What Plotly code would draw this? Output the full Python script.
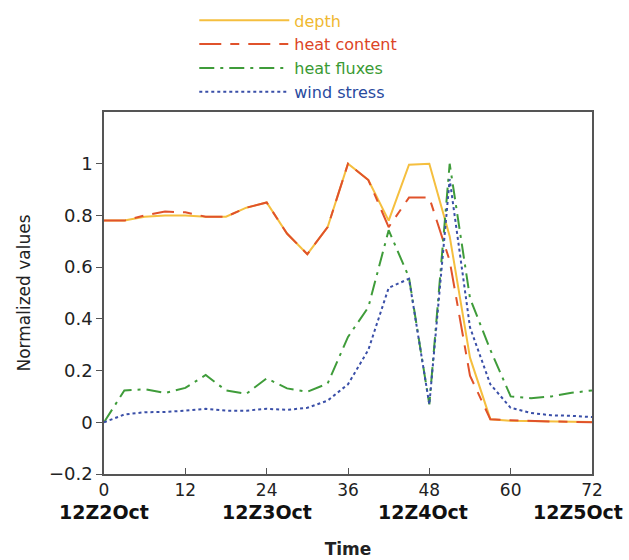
import plotly.graph_objects as go

hours = [0, 3, 6, 9, 12, 15, 18, 21, 24, 27, 30, 33, 36, 39, 42, 45, 48, 51, 54, 57, 60, 63, 66, 69, 72]
depth = [0.78, 0.78, 0.795, 0.80, 0.80, 0.795, 0.795, 0.83, 0.85, 0.73, 0.65, 0.755, 1.0, 0.937, 0.78,
         0.996, 1.0, 0.72, 0.25, 0.012, 0.006, 0.004, 0.003, 0.002, 0.001]
heat_content = [0.78, 0.78, 0.80, 0.815, 0.812, 0.795, 0.795, 0.83, 0.85, 0.73, 0.65, 0.755, 1.0, 0.937, 0.755,
                0.869, 0.869, 0.625, 0.18, 0.012, 0.008, 0.005, 0.003, 0.002, 0.0]
heat_fluxes = [0.0, 0.123, 0.128, 0.113, 0.133, 0.183, 0.123, 0.11, 0.17, 0.131, 0.118, 0.15, 0.33, 0.445, 0.743,
               0.56, 0.069, 1.0, 0.48, 0.28, 0.10, 0.093, 0.10, 0.114, 0.123]
wind_stress = [0.0, 0.03, 0.039, 0.04, 0.045, 0.052, 0.045, 0.045, 0.052, 0.048, 0.056, 0.084, 0.147, 0.28, 0.52,
               0.555, 0.069, 0.94, 0.367, 0.147, 0.056, 0.036, 0.027, 0.025, 0.02]

tick_vals = [0, 12, 24, 36, 48, 60, 72]
tick_text = ["0", "12", "24", "36", "48", "60", "72"]
date_labels = ["12Z2Oct", "12Z3Oct", "12Z4Oct", "12Z5Oct"]
date_hours = [0, 24, 47, 70]

series = [
    ("depth", depth, "#f5bf3f", "solid", "#f0b830"),
    ("heat content", heat_content, "#e0522b", "22px,9px,9px,9px", "#dc4426"),
    ("heat fluxes", heat_fluxes, "#3f9c3a", "longdashdot", "#3a9a34"),
    ("wind stress", wind_stress, "#3a4fa8", "dot", "#284a9e"),
]

fig = go.Figure()
for name, vals, color, dash, tcolor in series:
    fig.add_trace(go.Scatter(
        x=hours, y=vals, mode="lines",
        name=f"<span style='color:{tcolor}'>{name}</span>",
        line=dict(color=color, width=2, dash=dash),
    ))

font_family = "DejaVu Sans, Liberation Sans, sans-serif"

for lab, h in zip(date_labels, date_hours):
    fig.add_annotation(
        x=h, y=-0.105, xref="x", yref="paper", text=f"<b>{lab}</b>",
        showarrow=False, xanchor="center", yanchor="middle",
        font=dict(family=font_family, size=19, color="#111"),
    )

fig.update_layout(
    width=629, height=560,
    margin=dict(l=104, r=37, t=112, b=86, autoexpand=False),
    paper_bgcolor="white", plot_bgcolor="white",
    font=dict(family=font_family, size=17, color="#222"),
    showlegend=True,
    legend=dict(
        x=0.185, y=1.30, xanchor="left", yanchor="top",
        font=dict(size=16, family=font_family),
        itemwidth=90, tracegroupgap=0,
        bgcolor="rgba(0,0,0,0)",
    ),
    xaxis=dict(
        range=[0, 72], tickvals=tick_vals, ticktext=tick_text,
        ticks="inside", ticklen=6, tickcolor="#555",
        showline=True, linecolor="#555", linewidth=1.5, mirror=True,
        showgrid=False, zeroline=False, ticklabeloverflow="allow",
        title=dict(text="<b>Time</b>", font=dict(size=17), standoff=44),
        tickfont=dict(size=17),
    ),
    yaxis=dict(
        range=[-0.2, 1.2], tickvals=[-0.2, 0, 0.2, 0.4, 0.6, 0.8, 1],
        ticktext=["\u22120.2", "0", "0.2", "0.4", "0.6", "0.8", "1"],
        ticks="outside", ticklen=6, tickcolor="#555",
        showline=True, linecolor="#555", linewidth=1.5, mirror=True,
        showgrid=False, zeroline=False,
        title=dict(text="Normalized values", font=dict(size=17), standoff=14),
        tickfont=dict(size=18),
    ),
)

fig.write_html("out.html")
